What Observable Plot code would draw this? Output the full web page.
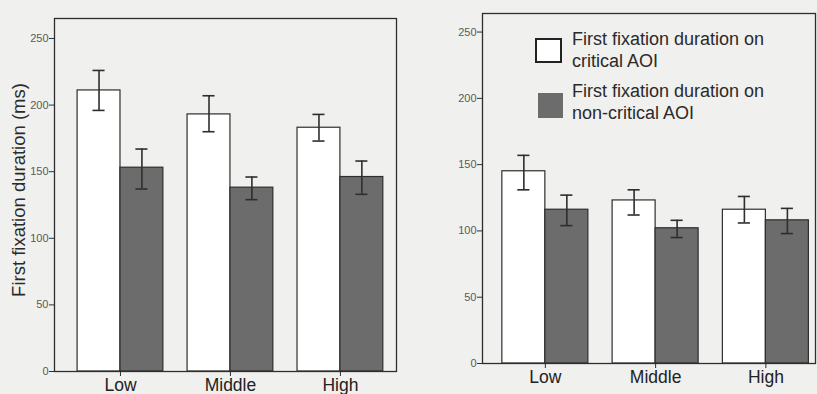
<!DOCTYPE html>
<html><head><meta charset="utf-8">
<script src="https://cdn.jsdelivr.net/npm/d3@7"></script>
<script src="https://cdn.jsdelivr.net/npm/@observablehq/plot@0.6"></script>
<style>
html,body{margin:0;padding:0;background:#f0f0ee;}
#wrap{position:relative;width:817px;height:394px;overflow:hidden;font-family:"Liberation Sans",Arial,sans-serif;background:#f0f0ee;}
.panel{position:absolute;top:0;}
.lg-box{position:absolute;box-sizing:border-box;}
.lg-text{position:absolute;font-size:18px;line-height:22px;color:#2a2a2a;white-space:nowrap;}
</style></head><body><div id="wrap"></div>
<script>
// Data
const levels = ["Low", "Middle", "High"];
const seriesNames = ["critical", "non-critical"];
const legendLabels = ["First fixation duration on\ncritical AOI", "First fixation duration on\nnon-critical AOI"];
const yTicks = [0, 50, 100, 150, 200, 250];
const yLabel = "First fixation duration (ms)";

// Left panel
const leftCritical = [211, 193, 183];
const leftCriticalLo = [196, 180, 173];
const leftCriticalHi = [226, 207, 193];
const leftNonCritical = [153, 138, 146];
const leftNonCriticalLo = [137, 129, 133];
const leftNonCriticalHi = [167, 146, 158];

// Right panel
const rightCritical = [145, 123, 116];
const rightCriticalLo = [131, 112, 106];
const rightCriticalHi = [157, 131, 126];
const rightNonCritical = [116, 102, 108];
const rightNonCriticalLo = [104, 95, 98];
const rightNonCriticalHi = [127, 108, 117];

function rows(c, cLo, cHi, n, nLo, nHi) {
  const out = [];
  levels.forEach((lv, i) => {
    out.push({level: lv, idx: i, series: "critical", value: c[i], lo: cLo[i], hi: cHi[i]});
    out.push({level: lv, idx: i, series: "non-critical", value: n[i], lo: nLo[i], hi: nHi[i]});
  });
  return out;
}

const W = 0.39;   // bar width in group units
const CAP = 0.055;
const ink = "#2e2e2e";
const isC = d => d.series === "critical";
const center = d => d.idx + (isC(d) ? -W / 2 : W / 2);

function panel({data, width, marginLeft, marginRight, marginTop, marginBottom, xDomain, yMax, showLabel, xLabelDy}) {
  const marks = [
    Plot.rectY(data, {
      x1: d => d.idx + (isC(d) ? -W : 0),
      x2: d => d.idx + (isC(d) ? 0 : W),
      y1: 0, y2: "value",
      fill: "series", stroke: ink, strokeWidth: 1.2
    }),
    Plot.ruleX(data, {x: center, y1: "lo", y2: "hi", stroke: ink, strokeWidth: 1.6}),
    Plot.ruleY(data, {y: "lo", x1: d => center(d) - CAP, x2: d => center(d) + CAP, stroke: ink, strokeWidth: 1.6}),
    Plot.ruleY(data, {y: "hi", x1: d => center(d) - CAP, x2: d => center(d) + CAP, stroke: ink, strokeWidth: 1.6}),
    Plot.frame({stroke: ink, strokeWidth: 1.3}),
    Plot.axisY({ticks: yTicks, tickSize: 5, tickPadding: 1, fontSize: 11, color: "#5a5a5a", stroke: ink, label: null}),
    Plot.axisX({ticks: [0, 1, 2], tickFormat: i => levels[i], tickSize: 6, tickPadding: 2, fontSize: 17.5, color: "#222", stroke: ink, label: null, dy: xLabelDy})
  ];
  if (showLabel) {
    marks.push(Plot.text([yLabel], {frameAnchor: "left", textAnchor: "middle", rotate: -90, dx: -35, dy: -5, fontSize: 18.5, fill: "#2a2a2a"}));
  }
  return Plot.plot({
    width, height: 394, marginLeft, marginRight, marginTop, marginBottom,
    style: {background: "transparent", fontFamily: "'Liberation Sans', Arial, sans-serif", overflow: "visible"},
    x: {type: "linear", domain: xDomain, axis: null},
    y: {domain: [0, yMax], axis: null},
    color: {domain: seriesNames, range: ["#ffffff", "#6c6c6c"]},
    marks
  });
}

const wrap = document.getElementById("wrap");

const left = panel({
  data: rows(leftCritical, leftCriticalLo, leftCriticalHi, leftNonCritical, leftNonCriticalLo, leftNonCriticalHi),
  width: 420, marginLeft: 54, marginRight: 24, marginTop: 18, marginBottom: 23,
  xDomain: [-0.6, 2.51], yMax: 265, showLabel: true, xLabelDy: -1
});
left.classList.add("panel");
left.style.left = "0px";
wrap.appendChild(left);

const right = panel({
  data: rows(rightCritical, rightCriticalLo, rightCriticalHi, rightNonCritical, rightNonCriticalLo, rightNonCriticalHi),
  width: 397, marginLeft: 62, marginRight: 2, marginTop: 13, marginBottom: 31,
  xDomain: [-0.57, 2.45], yMax: 264, showLabel: false, xLabelDy: -1
});
right.classList.add("panel");
right.style.left = "420px";
wrap.appendChild(right);

// Legend
const box1 = document.createElement("div");
box1.className = "lg-box";
Object.assign(box1.style, {left: "535px", top: "38px", width: "27px", height: "25px", border: "2px solid #222", background: "#fff"});
wrap.appendChild(box1);
const box2 = document.createElement("div");
box2.className = "lg-box";
Object.assign(box2.style, {left: "538px", top: "93px", width: "25px", height: "25px", background: "#6c6c6c"});
wrap.appendChild(box2);
[[28, 0], [80, 1]].forEach(([top, i]) => {
  const t = document.createElement("div");
  t.className = "lg-text";
  t.style.left = "572px";
  t.style.top = top + "px";
  t.innerHTML = legendLabels[i].split("\n").join("<br>");
  wrap.appendChild(t);
});
</script>
</body></html>
